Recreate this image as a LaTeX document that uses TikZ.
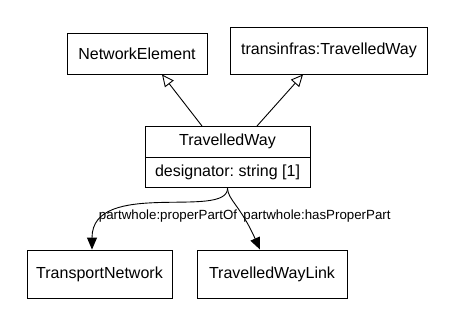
\documentclass[tikz,border=0pt]{standalone}
\usepackage{fontspec}
\setmainfont{Liberation Sans}
\usetikzlibrary{arrows.meta, positioning, shapes.multipart}
\definecolor{umlline}{HTML}{000000}

\begin{document}
\frenchspacing
\begin{tikzpicture}[
  x=1pt, y=-1pt,
  every node/.style={font=\fontsize{16}{19}\selectfont},
  classnode/.style={rectangle, draw=umlline, line width=0.9pt, minimum width=140pt, minimum height=41pt, align=center, inner sep=0pt},
  umlclass/.style={rectangle split, rectangle split parts=2, draw=umlline, line width=0.9pt, minimum width=165pt, inner ysep=7.4pt, rectangle split part align={center}},
  edgelabel/.style={font=\fontsize{13.3}{16}\selectfont, inner sep=0pt},
  inherit/.style={umlline, line width=0.9pt, -{Triangle[open, length=12pt, width=11pt]}},
  assoc/.style={umlline, line width=0.9pt, -{Triangle[length=12pt, width=10pt]}},
]
\useasboundingbox (0,0) rectangle (455,326);

% Superclasses
\node[classnode] (netelem) at (137,53.5) {NetworkElement};
\node[classnode, minimum width=197pt, minimum height=47pt] (tiway) at (329,50.5) {transinfras:TravelledWay};

% The class itself
\node[umlclass, anchor=north] (tway) at (227.5,126) {TravelledWay \nodepart{two} designator: string [1]};

% Part/whole targets
\node[classnode, minimum width=145pt, minimum height=48pt] (tnet) at (99.5,274) {TransportNetwork};
\node[classnode, minimum width=150pt, minimum height=48pt] (twlink) at (272,274) {TravelledWayLink};

% Generalizations
\draw[inherit] ([xshift=-25.5pt]tway.north) -- ([xshift=25pt]netelem.south);
\draw[inherit] ([xshift=29.5pt]tway.north) -- ([xshift=-26pt]tiway.south);

% Associations
\draw[assoc] (tway.south) .. controls (228,220) and (92,178) .. ([xshift=-7.5pt]tnet.north);
\draw[assoc] (tway.south) .. controls (228,200) and (240,205) .. ([xshift=-12pt]twlink.north);

\node[edgelabel] (lblpartof) at (168,216) {partwhole:properPartOf};
\node[edgelabel] (lblhaspart) at (317,216) {partwhole:hasProperPart};

\end{tikzpicture}
\end{document}
